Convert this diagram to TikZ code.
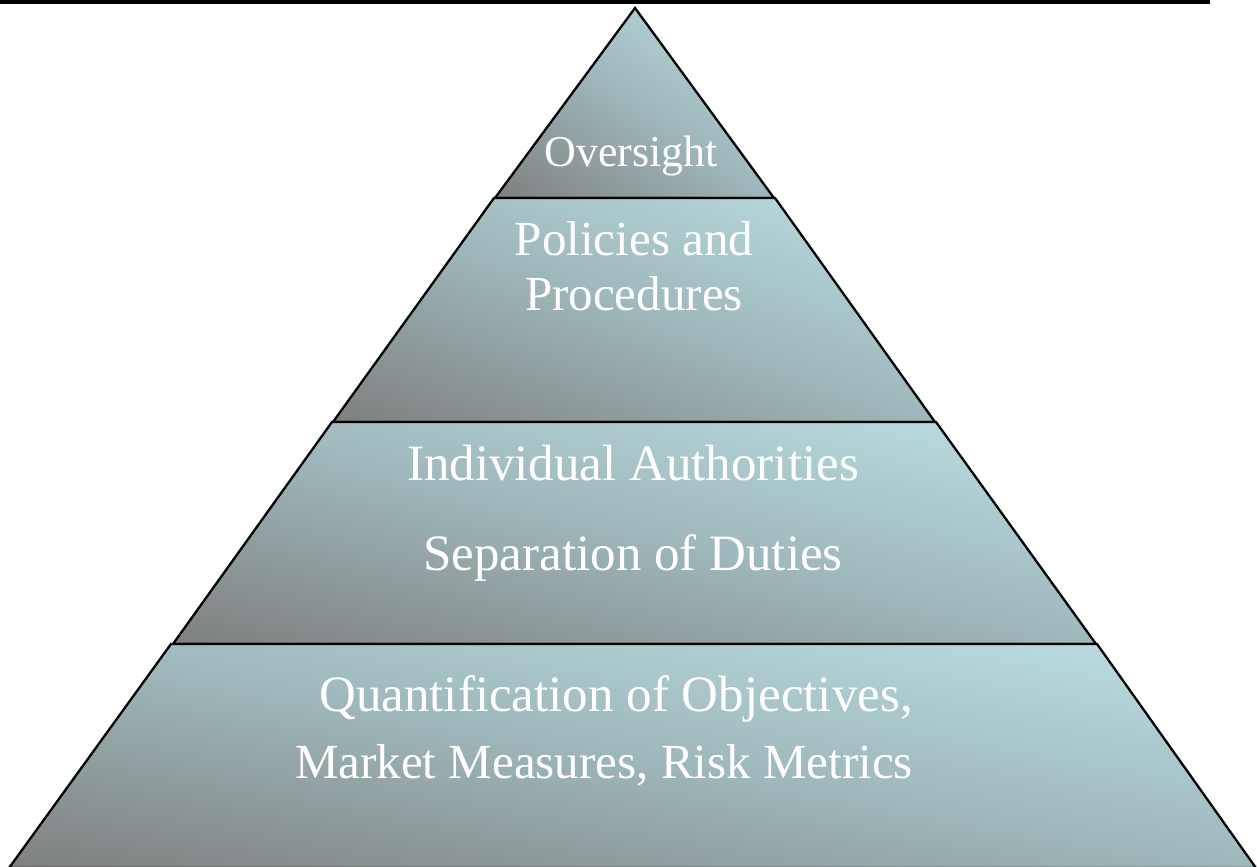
\documentclass[tikz,border=0pt]{standalone}
\usepackage{fontspec}
\setmainfont{Liberation Serif}
\definecolor{pdark}{RGB}{127,127,127}
\definecolor{pmid}{RGB}{158,183,186}
\definecolor{plight}{RGB}{188,224,228}
\pgfdeclarehorizontalshading{pyr}{100bp}{color(0bp)=(pdark); color(25bp)=(pdark); color(50bp)=(pmid); color(75bp)=(plight); color(100bp)=(plight)}
\tikzset{
  outline/.style={draw=black, line width=2.3pt, line join=miter},
  lbl/.style={text=white, anchor=base, inner sep=0pt, font=#1},
  lbl/.default={\fontsize{49}{55}\selectfont}
}
% #1 polygon, #2 #3 centre of bounding box, #4 width, #5 height
\newcommand\pyrlayer[5]{%
  \begin{scope}
    \clip #1;
    \shade[shading=pyr, transform canvas={shift={(#2,#3)}, xscale=#4/100, yscale=#5/100, rotate=45}]
      (-70.72,-70.72) rectangle (70.72,70.72);
  \end{scope}
  \path[outline] #1;
}
\begin{document}
\begin{tikzpicture}[x=1pt,y=-1pt]
\useasboundingbox (0,0) rectangle (1258,867);
\fill[black] (0,0) rectangle (1210,4.5);
% layers
\pyrlayer{(635,8) -- (774,198) -- (495,198) -- cycle}{634.5}{103}{279}{190}
\pyrlayer{(494,198) -- (775,198) -- (935,422) -- (333,422) -- cycle}{634}{310}{602}{224}
\pyrlayer{(332,422) -- (936,422) -- (1096,644) -- (173,644) -- cycle}{634.5}{533}{923}{222}
\pyrlayer{(171,644) -- (1097,644) -- (1256,868) -- (9,868) -- cycle}{632.5}{756}{1247}{224}
% labels
\node[lbl={\fontsize{44}{50}\selectfont}] (oversight) at (631,166) {Oversight};
\node[lbl] (policies) at (634,255) {Policies and};
\node[lbl] (procedures) at (634,310) {Procedures};
\node[lbl={\fontsize{51}{55}\selectfont}] (indiv) at (633,480) {Individual Authorities};
\node[lbl={\fontsize{51}{55}\selectfont}] (separ) at (633,570) {Separation of Duties};
\node[lbl={\fontsize{51}{55}\selectfont}] (quant) at (616,711) {Quantification of Objectives,};
\node[lbl={\fontsize{49}{55}\selectfont}] (market) at (604,778) {Market Measures, Risk Metrics};
\end{tikzpicture}
\end{document}
